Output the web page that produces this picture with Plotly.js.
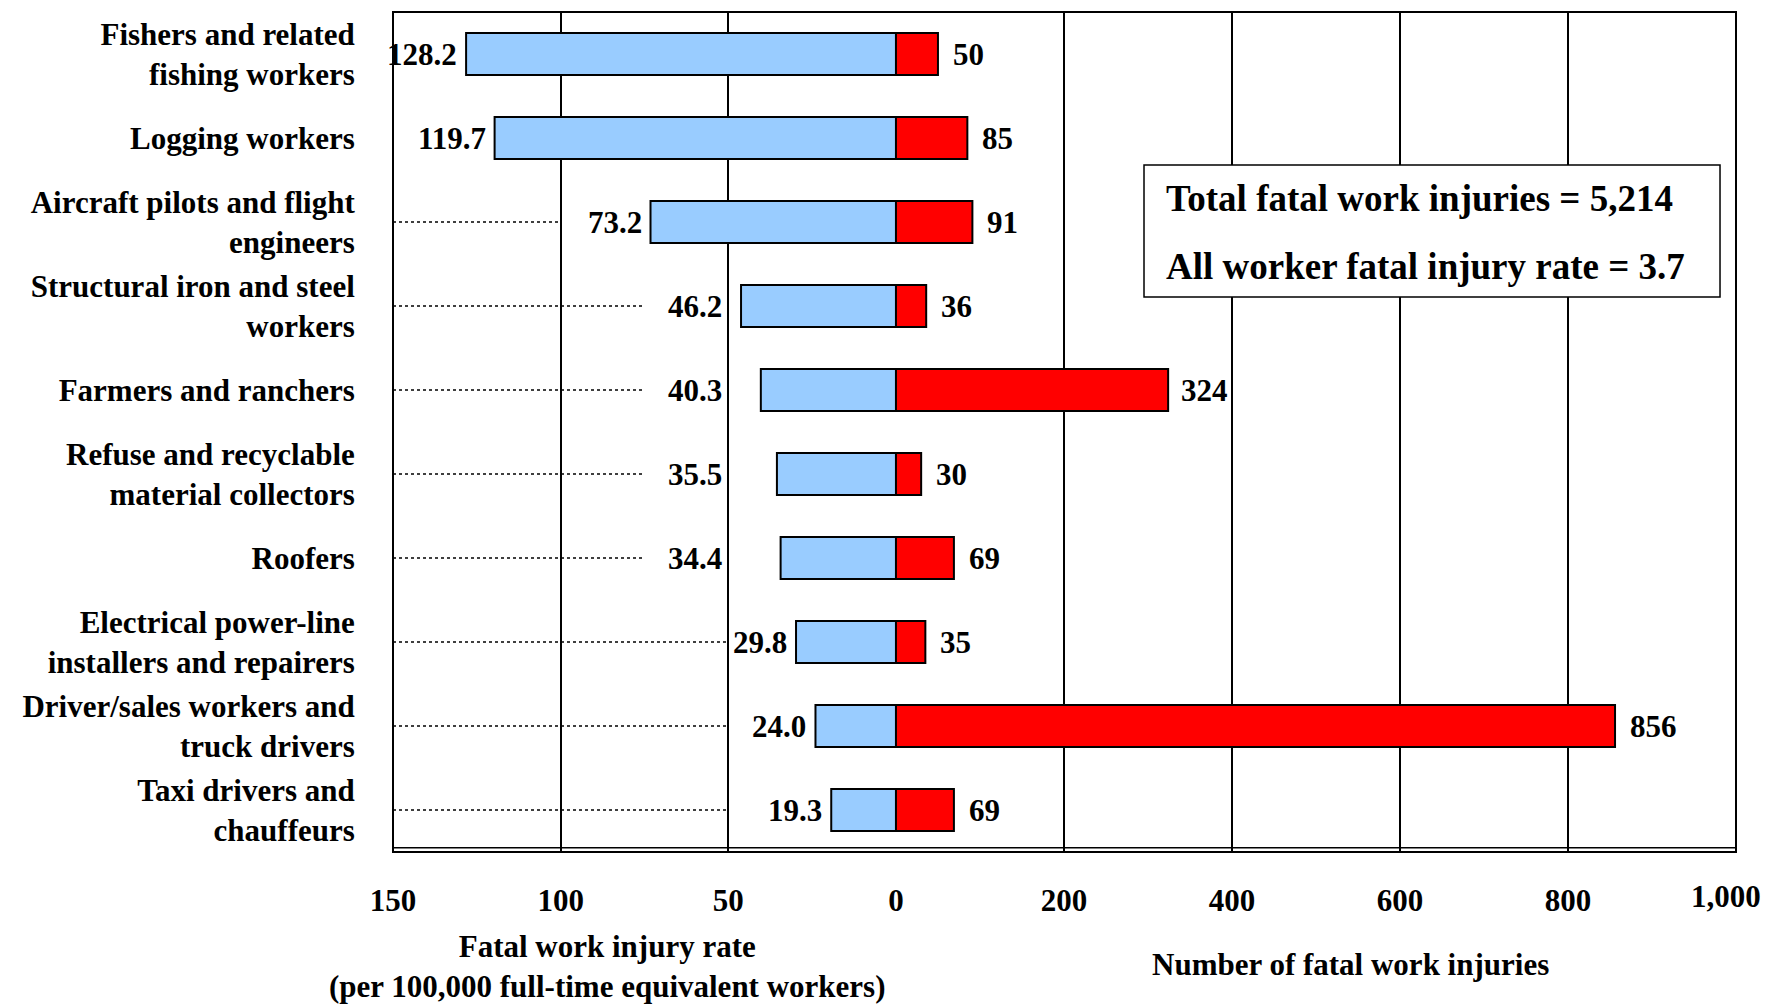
<!DOCTYPE html>
<html>
<head>
<meta charset="utf-8">
<script src="https://cdn.plot.ly/plotly-3.0.1.min.js"></script>
<style>html,body{margin:0;padding:0;background:#fff;}#chart{width:1765px;height:1004px;}</style>
</head>
<body>
<div id="chart"></div>
<script>
// ---- data ----
var categories = [
  "Fishers and related<br>fishing workers",
  "Logging workers",
  "Aircraft pilots and flight<br>engineers",
  "Structural iron and steel<br>workers",
  "Farmers and ranchers",
  "Refuse and recyclable<br>material collectors",
  "Roofers",
  "Electrical power-line<br>installers and repairers",
  "Driver/sales workers and<br>truck drivers",
  "Taxi drivers and<br>chauffeurs"
];
var fatalRates = [128.2, 119.7, 73.2, 46.2, 40.3, 35.5, 34.4, 29.8, 24.0, 19.3];
var fatalCounts = [50, 85, 91, 36, 324, 30, 69, 35, 856, 69];
var rateTicks = [0, 50, 100, 150];
var countTicks = [200, 400, 600, 800, 1000];
var countTickText = ["200", "400", "600", "800", "1,000"];
var totalText = "Total fatal work injuries = 5,214";
var rateText = "All worker fatal injury rate = 3.7";
var rateAxisTitle = "Fatal work injury rate<br>(per 100,000 full-time equivalent workers)";
var countAxisTitle = "Number of fatal work injuries";

// ---- styling / geometry ----
var FONT = "Liberation Serif, Times New Roman, serif";
function f(size) { return {family: FONT, size: size, color: "#000", weight: "bold"}; }
var W = 1765, H = 1004, ML = 393, MR = 29, MT = 12, MB = 152;
var SPLIT = 0.3745;
var RATE_MAX = 150, COUNT_MAX = 1000;
var plotW = W - ML - MR;
var ppuL = plotW * SPLIT / RATE_MAX;          // px per rate unit
var ppuR = plotW * (1 - SPLIT) / COUNT_MAX;   // px per count unit
var rateGrid = [50, 100];
var countGrid = [200, 400, 600, 800];

var ctx = document.createElement("canvas").getContext("2d");
ctx.font = 'bold 31px "Liberation Serif"';
function textW(t) { return ctx.measureText(t).width; }

// distance (px) from the bar end to the near edge of its value label;
// a label that would cross a gridline is moved clear of it
function labelGap(v, txt, ppu, grid, gap) {
  var w = textW(txt);
  var near = v + (gap - 2) / ppu, far = v + (gap + w + 2) / ppu;
  for (var k = 0; k < grid.length; k++) {
    var g = grid[k];
    if (g > near && g < far) return (g - v) * ppu + 4;   // beyond the gridline
  }
  return gap;
}
function labelGapRight(v, txt, ppu, grid, gap) {
  var w = textW(txt);
  var near = v + (gap - 2) / ppu, far = v + (gap + w + 5) / ppu;
  for (var k = 0; k < grid.length; k++) {
    var g = grid[k];
    if (g > near && g < far) return (g - v) * ppu - 6 - w; // before the gridline
  }
  return gap;
}

var traces = [
  {
    type: "bar", orientation: "h",
    x: fatalRates, y: categories,
    xaxis: "x", yaxis: "y",
    marker: {color: "#99CCFF", line: {color: "#000", width: 2}},
    hoverinfo: "skip", showlegend: false
  },
  {
    type: "bar", orientation: "h",
    x: fatalCounts, y: categories,
    xaxis: "x2", yaxis: "y",
    marker: {color: "#FF0000", line: {color: "#000", width: 2}},
    hoverinfo: "skip", showlegend: false
  }
];

var annotations = [];
fatalRates.forEach(function (v, i) {
  var txt = v.toFixed(1);
  annotations.push({xref: "x", yref: "y", x: v, y: i, xanchor: "right", yanchor: "middle",
    xshift: -labelGap(v, txt, ppuL, rateGrid, 7), text: txt, showarrow: false, font: f(31)});
});
fatalCounts.forEach(function (v, i) {
  var txt = String(v);
  annotations.push({xref: "x2", yref: "y", x: v, y: i, xanchor: "left", yanchor: "middle",
    xshift: labelGapRight(v, txt, ppuR, countGrid, 13), text: txt, showarrow: false, font: f(31)});
});

// the last count tick label sits at the frame corner; drawn as its own text, nudged inward
var lastIdx = countTicks.length - 1;
annotations.push({xref: "x2", yref: "paper", x: countTicks[lastIdx], y: -0.053,
  xanchor: "center", yanchor: "middle", xshift: -10,
  text: countTickText[lastIdx], showarrow: false, font: f(31)});
var axisTickText = countTickText.map(function (t, k) { return k === lastIdx ? "" : t; });

// leader dotted lines from frame edge toward the rate labels
var shapes = [];
fatalRates.forEach(function (v, i) {
  var end = Math.ceil((v + 20) / 25) * 25;
  if (end < RATE_MAX) {
    shapes.push({type: "line", xref: "x", yref: "y", x0: RATE_MAX, x1: end,
      y0: i, y1: i, layer: "between",
      line: {color: "#000", width: 1.5, dash: "dot"}});
  }
});
// plot frame (double line at bottom)
shapes.push({type: "rect", xref: "paper", yref: "paper", x0: 0, x1: 1, y0: 0, y1: 1,
  line: {color: "#000", width: 2}, layer: "above"});
shapes.push({type: "line", xref: "paper", yref: "paper", x0: 0, x1: 1, y0: 0.005, y1: 0.005,
  line: {color: "#000", width: 1.5}, layer: "above"});
// info box
shapes.push({type: "rect", xref: "paper", yref: "paper", x0: 0.5592, x1: 0.9881, y0: 0.6607, y1: 0.8179,
  line: {color: "#000", width: 1.5}, fillcolor: "#fff", layer: "above"});

annotations.push(
  {xref: "paper", yref: "paper", x: 0.5741, y: 0.7774, xanchor: "left", yanchor: "middle",
   text: totalText, showarrow: false, font: f(37)},
  {xref: "paper", yref: "paper", x: 0.5741, y: 0.6976, xanchor: "left", yanchor: "middle",
   text: rateText, showarrow: false, font: f(37)},
  {xref: "paper", yref: "paper", x: 0.160, y: -0.1365, xanchor: "center", yanchor: "middle",
   text: rateAxisTitle, showarrow: false, font: f(31)},
  {xref: "paper", yref: "paper", x: 0.7133, y: -0.1345, xanchor: "center", yanchor: "middle",
   text: countAxisTitle, showarrow: false, font: f(31)}
);

var gridStyle = {showgrid: true, gridcolor: "#000", gridwidth: 2, zeroline: false, showline: false,
  ticks: "outside", ticklen: 21, tickcolor: "rgba(0,0,0,0)", tickfont: f(31),
  ticklabeloverflow: "allow", fixedrange: true};

var layout = {
  width: W, height: H,
  margin: {l: ML, r: MR, t: MT, b: MB, pad: 0},
  paper_bgcolor: "#fff", plot_bgcolor: "#fff",
  font: f(31),
  barmode: "overlay", bargap: 0.5,
  showlegend: false,
  xaxis: Object.assign({}, gridStyle, {domain: [0, SPLIT], range: [RATE_MAX, 0],
    tickmode: "array", tickvals: rateTicks, anchor: "y"}),
  xaxis2: Object.assign({}, gridStyle, {domain: [SPLIT, 1], range: [0, COUNT_MAX],
    tickmode: "array", tickvals: countTicks, ticktext: axisTickText, anchor: "y"}),
  yaxis: {type: "category", categoryorder: "array", categoryarray: categories,
    range: [9.5, -0.5], showgrid: false, zeroline: false, showline: false,
    ticks: "outside", ticklen: 31, tickcolor: "rgba(0,0,0,0)", tickfont: f(31),
    anchor: "x", fixedrange: true},
  shapes: shapes,
  annotations: annotations
};

Plotly.newPlot("chart", traces, layout, {displayModeBar: false, staticPlot: true});
</script>
</body>
</html>
